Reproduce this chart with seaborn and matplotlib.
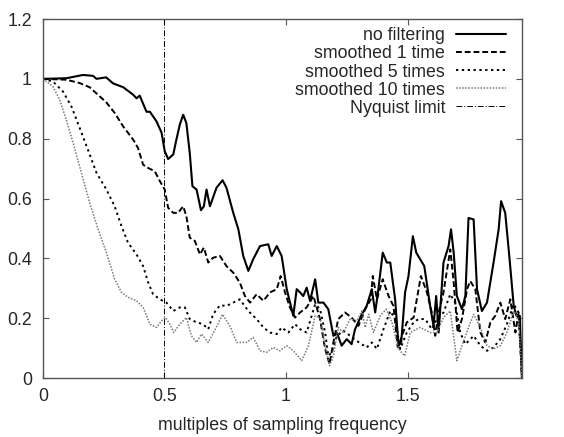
import matplotlib
matplotlib.use("Agg")
import matplotlib.pyplot as plt
import seaborn as sns
from matplotlib.ticker import FuncFormatter

x_raw = [0.0, 0.096, 0.165, 0.206, 0.22, 0.26, 0.288, 0.33, 0.371, 0.385, 0.398, 0.426, 0.44,
         0.467, 0.488, 0.501, 0.515, 0.536, 0.549, 0.563, 0.577, 0.59, 0.604, 0.615, 0.632,
         0.65, 0.662, 0.673, 0.687, 0.714, 0.739, 0.755, 0.783, 0.804, 0.824, 0.845, 0.865,
         0.893, 0.927, 0.941, 0.962, 0.982, 1.003, 1.03, 1.044, 1.058, 1.071, 1.085, 1.099,
         1.12, 1.133, 1.154, 1.174, 1.195, 1.209, 1.229, 1.25, 1.27, 1.284, 1.312, 1.332,
         1.353, 1.367, 1.38, 1.398, 1.415, 1.429, 1.449, 1.463, 1.474, 1.49, 1.504, 1.522,
         1.536, 1.552, 1.569, 1.593, 1.607, 1.618, 1.628, 1.648, 1.669, 1.679, 1.69, 1.703,
         1.724, 1.738, 1.751, 1.772, 1.786, 1.806, 1.827, 1.854, 1.875, 1.885, 1.902, 1.92,
         1.937, 1.948, 1.962, 1.971]
y_raw = [1.0, 1.002, 1.013, 1.01, 1.0, 1.005, 0.985, 0.972, 0.947, 0.935, 0.944, 0.89, 0.89,
         0.858, 0.82, 0.758, 0.732, 0.747, 0.797, 0.847, 0.88, 0.852, 0.752, 0.641, 0.63,
         0.561, 0.574, 0.63, 0.574, 0.636, 0.661, 0.636, 0.552, 0.497, 0.408, 0.358, 0.397,
         0.441, 0.447, 0.408, 0.441, 0.408, 0.297, 0.208, 0.297, 0.286, 0.274, 0.302, 0.258,
         0.33, 0.252, 0.252, 0.23, 0.141, 0.152, 0.108, 0.13, 0.113, 0.163, 0.213, 0.241,
         0.297, 0.219, 0.297, 0.419, 0.386, 0.386, 0.263, 0.108, 0.119, 0.286, 0.341, 0.474,
         0.419, 0.397, 0.374, 0.241, 0.174, 0.274, 0.152, 0.386, 0.441, 0.497, 0.419, 0.274,
         0.23, 0.274, 0.535, 0.53, 0.297, 0.224, 0.252, 0.386, 0.497, 0.591, 0.552, 0.397,
         0.241, 0.208, 0.208, 0.0]

x_s1 = [0.0, 0.096, 0.151, 0.192, 0.234, 0.261, 0.295, 0.33, 0.371, 0.391, 0.412, 0.433, 0.46,
        0.481, 0.501, 0.515, 0.536, 0.556, 0.577, 0.59, 0.604, 0.625, 0.646, 0.662, 0.68,
        0.7, 0.728, 0.755, 0.783, 0.81, 0.831, 0.852, 0.879, 0.907, 0.934, 0.962, 0.978,
        0.996, 1.016, 1.037, 1.058, 1.085, 1.113, 1.14, 1.161, 1.179, 1.195, 1.215, 1.243,
        1.27, 1.298, 1.326, 1.349, 1.357, 1.374, 1.398, 1.422, 1.442, 1.46, 1.477, 1.497,
        1.525, 1.555, 1.58, 1.6, 1.614, 1.628, 1.648, 1.676, 1.69, 1.706, 1.724, 1.745,
        1.758, 1.779, 1.8, 1.82, 1.841, 1.861, 1.882, 1.902, 1.923, 1.944, 1.957, 1.971]
y_s1 = [1.0, 0.997, 0.986, 0.972, 0.941, 0.921, 0.886, 0.841, 0.797, 0.769, 0.713, 0.702, 0.691,
        0.658, 0.63, 0.569, 0.552, 0.552, 0.574, 0.541, 0.469, 0.458, 0.413, 0.436, 0.386,
        0.402, 0.408, 0.374, 0.352, 0.319, 0.274, 0.252, 0.28, 0.258, 0.286, 0.297, 0.341,
        0.286, 0.236, 0.202, 0.219, 0.236, 0.274, 0.197, 0.097, 0.047, 0.119, 0.197, 0.219,
        0.202, 0.174, 0.23, 0.263, 0.341, 0.263, 0.33, 0.274, 0.241, 0.102, 0.141, 0.186,
        0.202, 0.341, 0.286, 0.219, 0.141, 0.219, 0.286, 0.43, 0.319, 0.152, 0.197, 0.297,
        0.324, 0.297, 0.152, 0.119, 0.186, 0.208, 0.252, 0.197, 0.263, 0.152, 0.219, 0.0]

x_s5 = [0.0, 0.041, 0.082, 0.117, 0.151, 0.185, 0.22, 0.261, 0.295, 0.323, 0.35, 0.385, 0.412,
        0.433, 0.453, 0.481, 0.508, 0.536, 0.563, 0.584, 0.604, 0.632, 0.659, 0.68, 0.7,
        0.728, 0.755, 0.783, 0.81, 0.845, 0.879, 0.907, 0.934, 0.962, 0.982, 1.01, 1.037,
        1.058, 1.085, 1.12, 1.14, 1.161, 1.174, 1.188, 1.209, 1.236, 1.264, 1.291, 1.332,
        1.353, 1.374, 1.401, 1.429, 1.449, 1.47, 1.497, 1.525, 1.545, 1.573, 1.6, 1.621,
        1.648, 1.676, 1.696, 1.717, 1.738, 1.772, 1.8, 1.827, 1.854, 1.882, 1.909, 1.937,
        1.957, 1.971]
y_s5 = [1.0, 0.991, 0.958, 0.908, 0.836, 0.763, 0.686, 0.63, 0.574, 0.508, 0.452, 0.413, 0.374,
        0.319, 0.28, 0.263, 0.252, 0.224, 0.236, 0.236, 0.197, 0.186, 0.18, 0.163, 0.213,
        0.243, 0.241, 0.252, 0.263, 0.224, 0.197, 0.169, 0.152, 0.147, 0.169, 0.152, 0.18,
        0.163, 0.152, 0.247, 0.23, 0.152, 0.074, 0.086, 0.141, 0.158, 0.141, 0.124, 0.102,
        0.119, 0.097, 0.163, 0.224, 0.197, 0.097, 0.152, 0.186, 0.197, 0.197, 0.163, 0.197,
        0.219, 0.28, 0.252, 0.152, 0.113, 0.141, 0.108, 0.091, 0.102, 0.13, 0.18, 0.247,
        0.219, 0.0]

x_s10 = [0.0, 0.041, 0.069, 0.096, 0.124, 0.158, 0.192, 0.227, 0.261, 0.295, 0.323, 0.35, 0.385,
         0.412, 0.44, 0.467, 0.488, 0.504, 0.522, 0.538, 0.563, 0.59, 0.611, 0.632, 0.652,
         0.68, 0.709, 0.739, 0.769, 0.797, 0.838, 0.865, 0.893, 0.92, 0.948, 0.975, 1.003,
         1.03, 1.065, 1.092, 1.12, 1.14, 1.161, 1.179, 1.195, 1.215, 1.236, 1.264, 1.291,
         1.312, 1.326, 1.34, 1.36, 1.388, 1.412, 1.436, 1.463, 1.488, 1.511, 1.552, 1.593,
         1.621, 1.648, 1.676, 1.703, 1.724, 1.751, 1.772, 1.8, 1.827, 1.854, 1.882, 1.909,
         1.937, 1.957, 1.971]
y_s10 = [1.0, 0.974, 0.93, 0.863, 0.786, 0.686, 0.586, 0.497, 0.419, 0.33, 0.286, 0.27, 0.258,
         0.236, 0.18, 0.169, 0.191, 0.202, 0.18, 0.152, 0.18, 0.202, 0.141, 0.119, 0.147,
         0.119, 0.163, 0.213, 0.174, 0.119, 0.119, 0.136, 0.091, 0.086, 0.102, 0.091, 0.108,
         0.091, 0.058, 0.108, 0.208, 0.202, 0.108, 0.041, 0.074, 0.169, 0.152, 0.197, 0.191,
         0.224, 0.169, 0.213, 0.152, 0.208, 0.23, 0.186, 0.097, 0.074, 0.152, 0.169, 0.152,
         0.152, 0.202, 0.224, 0.058, 0.108, 0.169, 0.213, 0.169, 0.108, 0.097, 0.108, 0.152,
         0.224, 0.197, 0.0]

nyquist = 0.5
x_ticks = [0, 0.5, 1, 1.5]
y_ticks = [0, 0.2, 0.4, 0.6, 0.8, 1.0, 1.2]

sns.set_style("ticks")
plt.rcParams['font.family'] = ['Liberation Sans', 'DejaVu Sans']
fs = 12.8

fig = plt.figure(figsize=(5.64, 4.37), dpi=100)
ax = fig.add_axes([0.0762, 0.135, 0.8493, 0.8215])

sns.lineplot(x=x_raw, y=y_raw, ax=ax, color="black", lw=1.5, ls="-",
             estimator=None, sort=False, label="no filtering")
sns.lineplot(x=x_s1, y=y_s1, ax=ax, color="black", lw=1.4, ls=(0, (3, 1.5)),
             estimator=None, sort=False, label="smoothed 1 time")
sns.lineplot(x=x_s5, y=y_s5, ax=ax, color="black", lw=1.4, ls=(0, (1.2, 1.8)),
             estimator=None, sort=False, label="smoothed 5 times")
sns.lineplot(x=x_s10, y=y_s10, ax=ax, color="#777777", lw=1.1, ls=(0, (1, 1)),
             estimator=None, sort=False, label="smoothed 10 times")
ax.axvline(nyquist, color="black", lw=0.7, ls=(0, (6, 2, 1, 2)), label="Nyquist limit")

ax.set_xlim(0, 1.971)
ax.set_ylim(0, 1.2)
ax.set_xticks(x_ticks)
ax.set_yticks(y_ticks)
fmt = FuncFormatter(lambda v, p: "%g" % v)
ax.xaxis.set_major_formatter(fmt)
ax.yaxis.set_major_formatter(fmt)
ax.tick_params(direction="in", length=4, width=0.8, color="#555555",
               top=True, right=True, labelsize=fs)
ax.tick_params(axis="x", pad=7)
ax.tick_params(axis="y", pad=8)
for s in ax.spines.values():
    s.set_color("#555555")
    s.set_linewidth(1.0)
    s.set_visible(True)

ax.set_xlabel("multiples of sampling frequency", fontsize=fs, labelpad=9)
ax.set_ylabel("")

ax.legend(loc="upper right", frameon=False, markerfirst=False, fontsize=fs,
          handlelength=2.8, handletextpad=0.6, labelspacing=0.06, borderaxespad=0,
          borderpad=0.25, bbox_to_anchor=(0.975, 0.989))

fig.savefig("out.png", dpi=100)
